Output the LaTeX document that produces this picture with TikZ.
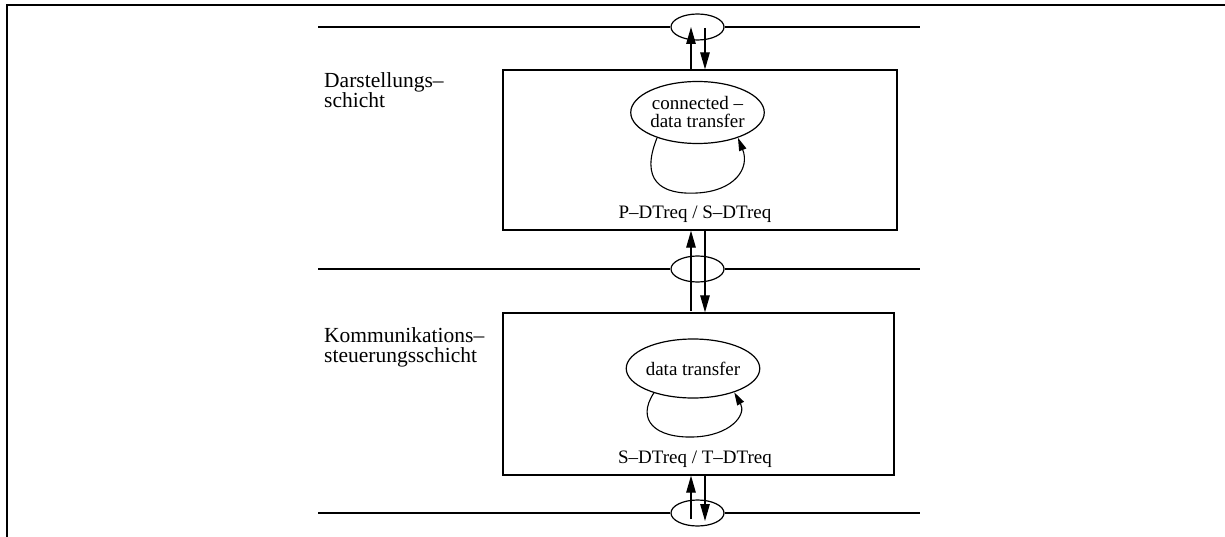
\documentclass[tikz,border=0pt]{standalone}
\usepackage{fontspec}
\setmainfont{Liberation Serif}
\usetikzlibrary{arrows.meta,shapes.geometric}

\tikzset{
  layer line/.style={line width=1.3pt},
  frame line/.style={line width=2.6pt, line join=miter},
  statebox/.style={draw, line width=1.3pt, rectangle, inner sep=0pt},
  sap/.style={draw, line width=1.2pt, ellipse, inner sep=0pt,
              minimum width=53pt, minimum height=26pt},
  state/.style={draw, line width=1.2pt, ellipse, inner sep=0pt, align=center,
                font=\fontsize{19}{18}\selectfont},
  prim/.style={-{Triangle[length=17pt,width=9.5pt]}, line width=1.2pt},
  selfloop/.style={-{Triangle[length=13pt,width=7.5pt]}, line width=1.1pt},
  layername/.style={anchor=north west, inner sep=0pt, align=left,
                    font=\fontsize{21.5}{20.5}\selectfont},
  trans/.style={anchor=base, inner sep=0pt, font=\fontsize{19}{18}\selectfont},
}

\begin{document}
\begin{tikzpicture}[x=1pt, y=-1pt]
\useasboundingbox (0,0) rectangle (1225,537);

% page frame (top and left edges)
\draw[frame line] (1225,5) -- (7,5) -- (7,537);

% service access points on the layer boundaries
\node[sap] (p1) at (697.5,27)  {};
\node[sap] (p2) at (697.5,269) {};
\node[sap] (p3) at (697.5,513) {};

% layer boundaries
\coordinate (l1) at (318,27);  \coordinate (r1) at (920,27);
\coordinate (l2) at (318,269); \coordinate (r2) at (920,269);
\coordinate (l3) at (318,513); \coordinate (r3) at (920,513);
\draw[layer line] (l1) -- (p1.west);  \draw[layer line] (p1.east) -- (r1);
\draw[layer line] (l2) -- (p2.west);  \draw[layer line] (p2.east) -- (r2);
\draw[layer line] (l3) -- (p3.west);  \draw[layer line] (p3.east) -- (r3);

% layer machines
\node[statebox, minimum width=394pt, minimum height=160pt] (b1) at (700,150) {};
\node[statebox, minimum width=391pt, minimum height=162pt] (b2) at (698.5,394) {};

% layer names
\node[layername] (n1) at (324,72)  {Darstellungs–\\schicht};
\node[layername] (n2) at (324,327) {Kommunikations–\\steuerungsschicht};

% states
\node[state, minimum width=123pt, minimum height=62pt] (e1) at (697.5,112.5)
  {connected –\\data transfer};
\node[state, minimum width=124pt, minimum height=59pt] (e2) at (693,368.5)
  {data transfer};

% transitions on each state
\draw[selfloop] (e1.212) .. controls (640,180) and (660,195) .. (697,193)
                        .. controls (735,191) and (750,168) .. (e1.328);
\draw[selfloop] (e2.212) .. controls (636,420) and (655,438) .. (693,437)
                        .. controls (730,436) and (747,415) .. (e2.330);

% transition labels
\node[trans] (t1) at (695,219) {P–DTreq / S–DTreq};
\node[trans] (t2) at (695,463) {S–DTreq / T–DTreq};

% primitive flow through the access points
\coordinate (u1) at (691,27);  \coordinate (d1) at (705,28);
\coordinate (u2) at (691,311); \coordinate (d2) at (705,230);
\coordinate (u3) at (691,519); \coordinate (d3) at (705,521);

\draw[prim] (u1 |- b1.north) -- (u1);
\draw[prim] (d1) -- (d1 |- b1.north);

\draw[prim] (u2) -- (u2 |- b1.south);
\draw[prim] (d2 |- b1.south) -- (d2 |- b2.north);

\draw[prim] (u3) -- (u3 |- b2.south);
\draw[prim] (d3 |- b2.south) -- (d3);
\end{tikzpicture}
\end{document}
